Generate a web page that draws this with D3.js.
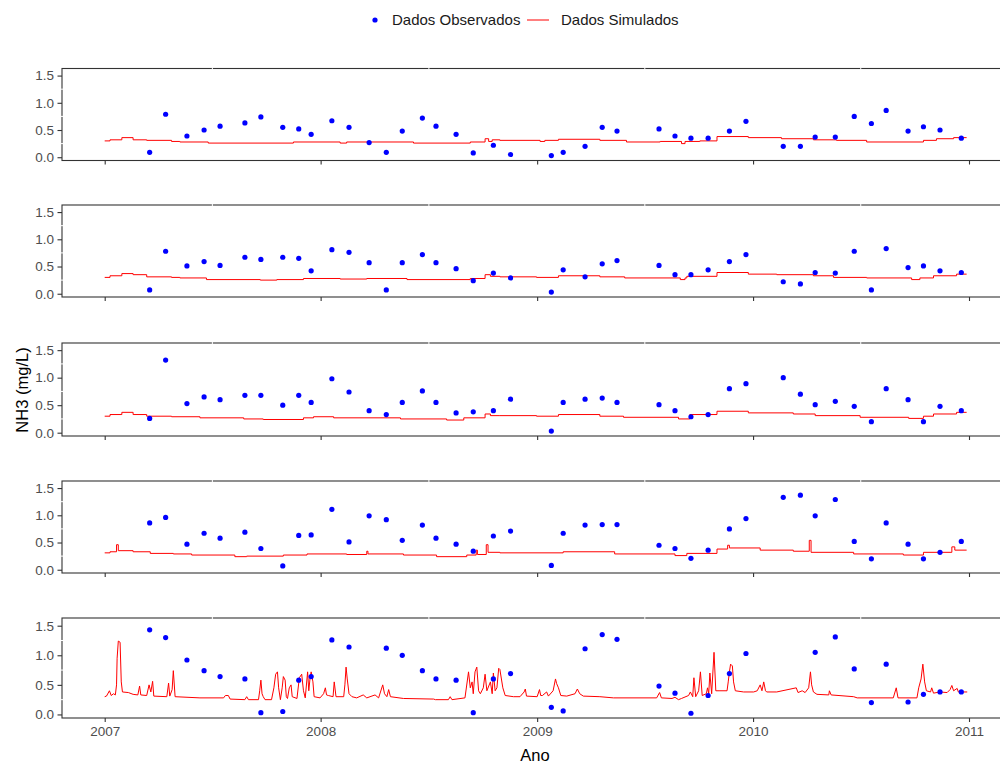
<!DOCTYPE html>
<html>
<head>
<meta charset="utf-8">
<script src="https://cdn.jsdelivr.net/npm/d3@7/dist/d3.min.js"></script>
<style>
	body { margin: 0; background: #fff; }
	svg { display: block; font-family: "Liberation Sans", Arial, sans-serif; }
</style>
</head>
<body>
<div id="chart"></div>
<script>
/* Datas de coleta (dados observados) */
const obsDatas = [
	"2007-03-18","2007-04-14","2007-05-20","2007-06-18","2007-07-15","2007-08-26","2007-09-22","2007-10-29","2007-11-25","2007-12-16",
	"2008-01-20","2008-02-18","2008-03-23","2008-04-21","2008-05-18","2008-06-21","2008-07-14","2008-08-17","2008-09-15","2008-10-19","2008-11-17",
	"2009-01-25","2009-02-14","2009-03-23","2009-04-21","2009-05-16","2009-07-26","2009-08-22","2009-09-18","2009-10-17","2009-11-22","2009-12-20",
	"2010-02-21","2010-03-22","2010-04-16","2010-05-20","2010-06-21","2010-07-20","2010-08-14","2010-09-20","2010-10-16","2010-11-13","2010-12-19"
];

/* NH3 observado por painel (null = sem coleta) */
const obsP1 = [0.09,0.79,0.39,0.50,0.57,0.63,0.74,0.55,0.52,0.42,0.67,0.55,0.27,0.09,0.48,0.72,0.57,0.42,0.08,0.22,0.05,
	0.03,0.09,0.20,0.55,0.48,0.52,0.39,0.35,0.35,0.48,0.66,0.20,0.20,0.37,0.37,0.75,0.62,0.86,0.48,0.56,0.50,0.35];
const obsP2 = [0.07,0.78,0.51,0.59,0.52,0.67,0.63,0.67,0.65,0.42,0.81,0.76,0.57,0.07,0.57,0.72,0.57,0.46,0.24,0.38,0.29,
	0.03,0.44,0.31,0.55,0.61,0.52,0.35,0.35,0.44,0.59,0.72,0.22,0.18,0.39,0.38,0.78,0.07,0.83,0.48,0.51,0.42,0.39];
const obsP3 = [0.26,1.32,0.53,0.65,0.60,0.68,0.68,0.50,0.68,0.55,0.98,0.74,0.40,0.33,0.55,0.76,0.55,0.36,0.38,0.40,0.61,
	0.03,0.55,0.61,0.63,0.55,0.51,0.40,0.29,0.33,0.80,0.89,1.00,0.70,0.51,0.57,0.48,0.20,0.80,0.60,0.20,0.48,0.40];
const obsP4 = [0.86,0.96,0.47,0.67,0.58,0.69,0.39,0.07,0.63,0.64,1.11,0.51,0.99,0.92,0.54,0.82,0.58,0.47,0.34,0.62,0.71,
	0.08,0.67,0.82,0.83,0.83,0.45,0.39,0.21,0.36,0.75,0.94,1.33,1.37,0.99,1.29,0.52,0.20,0.86,0.47,0.20,0.32,0.52];
const obsP5 = [1.43,1.30,0.92,0.74,0.64,0.60,0.03,0.05,0.58,0.64,1.26,1.14,null,1.12,1.00,0.74,0.60,0.58,0.03,0.60,0.69,
	0.12,0.06,1.11,1.35,1.27,0.48,0.36,0.02,0.32,0.69,1.03,null,null,1.05,1.31,0.77,0.20,0.85,0.21,0.34,0.38,0.38];

/* Simulado: [dias desde simInicio, NH3] */
const simInicio = "2007-01-01";
const simP1 = [[0,0.30],[9,0.32],[29,0.36],[48,0.32],[71,0.31],[113,0.29],[127,0.28],[175,0.26],[319,0.28],[398,0.26],
	[409,0.28],[522,0.26],[618,0.28],[643,0.34],[649,0.29],[655,0.32],[668,0.31],[736,0.29],[744,0.31],[767,0.33],
	[837,0.31],[882,0.28],[939,0.29],[975,0.25],[981,0.29],[1006,0.30],[1035,0.38],[1088,0.36],[1144,0.34],[1198,0.32],
	[1237,0.31],[1288,0.28],[1384,0.31],[1406,0.34],[1435,0.36],[1457,0.36]];
const simP2 = [[0,0.30],[9,0.33],[29,0.37],[48,0.35],[71,0.31],[113,0.30],[127,0.29],[172,0.26],[263,0.25],[291,0.26],
	[336,0.28],[398,0.27],[443,0.28],[511,0.26],[618,0.28],[643,0.35],[652,0.32],[668,0.31],[730,0.30],[767,0.33],
	[837,0.31],[879,0.29],[973,0.26],[981,0.29],[984,0.32],[1035,0.39],[1088,0.36],[1136,0.35],[1198,0.33],[1232,0.30],
	[1288,0.29],[1364,0.26],[1378,0.29],[1401,0.33],[1440,0.36],[1457,0.36]];
const simP3 = [[0,0.30],[9,0.33],[29,0.37],[48,0.33],[71,0.30],[113,0.29],[161,0.27],[235,0.25],[268,0.24],[336,0.27],
	[353,0.29],[387,0.27],[500,0.25],[578,0.23],[607,0.27],[643,0.34],[652,0.31],[668,0.31],[730,0.30],[767,0.33],
	[837,0.30],[877,0.28],[970,0.25],[989,0.33],[1035,0.39],[1088,0.36],[1164,0.34],[1201,0.31],[1277,0.28],[1359,0.26],
	[1384,0.30],[1401,0.34],[1440,0.37],[1457,0.37]];
const simP4 = [[0,0.31],[9,0.33],[20,0.46],[23,0.35],[48,0.33],[77,0.30],[116,0.29],[147,0.27],[220,0.24],[240,0.25],
	[302,0.27],[342,0.29],[409,0.28],[443,0.34],[445,0.29],[505,0.27],[561,0.24],[612,0.27],[628,0.36],[630,0.28],
	[645,0.46],[648,0.32],[668,0.31],[775,0.33],[862,0.29],[964,0.26],[984,0.30],[1035,0.38],[1053,0.45],[1056,0.40],
	[1108,0.36],[1164,0.34],[1191,0.54],[1194,0.32],[1266,0.29],[1350,0.27],[1384,0.32],[1432,0.42],[1437,0.36],[1457,0.36]];
const simP5 = [[0,0.30],[3,0.31],[8,0.40],[11,0.32],[15,0.35],[18,0.33],[20,0.50],[21,0.95],[23,1.24],[26,1.22],
	[28,0.55],[30,0.38],[40,0.37],[48,0.34],[56,0.33],[59,0.48],[61,0.33],[71,0.32],[75,0.50],[78,0.38],
	[81,0.56],[83,0.31],[105,0.30],[108,0.53],[110,0.31],[114,0.42],[116,0.74],[119,0.30],[161,0.28],[201,0.28],
	[204,0.32],[209,0.32],[212,0.26],[237,0.25],[240,0.30],[243,0.25],[260,0.25],[262,0.40],[264,0.58],[266,0.35],
	[268,0.30],[271,0.25],[282,0.25],[286,0.45],[289,0.68],[292,0.72],[294,0.45],[297,0.25],[300,0.45],[302,0.64],
	[305,0.58],[307,0.30],[309,0.27],[312,0.45],[315,0.50],[317,0.30],[325,0.27],[329,0.62],[333,0.68],[336,0.40],
	[339,0.28],[343,0.72],[345,0.40],[347,0.60],[349,0.72],[352,0.55],[354,0.30],[364,0.28],[370,0.35],[373,0.45],
	[375,0.33],[378,0.32],[386,0.30],[388,0.55],[391,0.30],[404,0.30],[406,0.50],[408,0.80],[410,0.60],[413,0.35],
	[418,0.30],[426,0.28],[437,0.33],[443,0.28],[457,0.33],[463,0.28],[470,0.50],[473,0.35],[477,0.30],[480,0.42],
	[483,0.30],[505,0.27],[556,0.26],[559,0.25],[581,0.25],[584,0.30],[587,0.25],[609,0.28],[615,0.72],[618,0.45],
	[621,0.55],[623,0.35],[626,0.72],[629,0.80],[632,0.40],[635,0.35],[640,0.45],[643,0.68],[646,0.40],[652,0.55],
	[655,0.35],[657,0.70],[660,0.40],[663,0.45],[666,0.78],[668,0.76],[673,0.45],[677,0.32],[691,0.30],[702,0.30],
	[709,0.38],[711,0.43],[713,0.31],[731,0.30],[735,0.42],[737,0.32],[740,0.32],[747,0.38],[750,0.31],[758,0.40],
	[762,0.60],[764,0.52],[767,0.45],[771,0.32],[781,0.31],[795,0.35],[799,0.43],[803,0.35],[809,0.31],[837,0.30],
	[860,0.28],[933,0.28],[938,0.37],[941,0.28],[959,0.27],[964,0.29],[970,0.25],[975,0.27],[987,0.32],[990,0.38],
	[994,0.30],[996,0.62],[999,0.30],[1004,0.40],[1007,0.72],[1010,0.32],[1017,0.35],[1019,0.45],[1021,0.35],[1023,0.70],
	[1026,0.35],[1030,1.05],[1033,0.40],[1040,0.40],[1052,0.40],[1054,0.55],[1056,0.72],[1058,0.85],[1061,0.82],[1063,0.55],
	[1066,0.40],[1080,0.38],[1097,0.38],[1103,0.40],[1108,0.50],[1111,0.40],[1114,0.55],[1117,0.40],[1119,0.38],[1136,0.38],
	[1169,0.45],[1172,0.37],[1179,0.40],[1184,0.37],[1190,0.45],[1193,0.72],[1195,0.50],[1198,0.38],[1204,0.34],[1224,0.33],
	[1225,0.40],[1228,0.33],[1266,0.30],[1272,0.28],[1333,0.28],[1338,0.45],[1341,0.28],[1373,0.28],[1376,0.45],[1380,0.60],
	[1383,0.85],[1386,0.55],[1389,0.40],[1396,0.38],[1398,0.45],[1401,0.36],[1412,0.38],[1424,0.37],[1429,0.42],[1432,0.49],
	[1435,0.40],[1441,0.44],[1443,0.38],[1458,0.38]];

/* Eixos */
const yTicks = [0, 0.5, 1.0, 1.5];
const yMinor = [0.25, 0.75, 1.25];
const xTicks = ["2007-01-01","2008-01-01","2009-01-01","2010-01-01","2011-01-01"];
const xMinor = ["2007-07-02","2008-07-02","2009-07-02","2010-07-02"];
const legendaLabels = ["Dados Observados", "Dados Simulados"];

/* Layout */
const W = 1000, H = 763;
const parse = d3.timeParse("%Y-%m-%d");
const t0 = parse(simInicio);
const paineis = [
	{ obs: obsP1, sim: simP1, step: true,  top: 68.5, bottom: 160.5 },
	{ obs: obsP2, sim: simP2, step: true,  top: 205,  bottom: 297 },
	{ obs: obsP3, sim: simP3, step: true,  top: 343,  bottom: 436 },
	{ obs: obsP4, sim: simP4, step: true,  top: 481,  bottom: 573 },
	{ obs: obsP5, sim: simP5, step: false, top: 618,  bottom: 718 }
];
const PL = 62, PR = 1010;

const svg = d3.select("#chart").append("svg").attr("width", W).attr("height", H);

const x = d3.scaleTime()
	.domain([parse(xTicks[0]), parse(xTicks[xTicks.length - 1])])
	.range([104.7, 969]);

svg.append("defs").selectAll("clipPath").data(paineis).join("clipPath")
	.attr("id", (d, i) => "clip" + i)
	.append("rect")
	.attr("x", PL).attr("y", d => d.top).attr("width", PR - PL).attr("height", d => d.bottom - d.top);

paineis.forEach((p, i) => {
	const y = d3.scaleLinear().domain([-0.06, 1.63]).range([p.bottom, p.top]);
	const g = svg.append("g");

	// linha simulada
	const serie = p.sim.map(([dia, v]) => ({ date: d3.timeDay.offset(t0, dia), v }));
	const line = d3.line()
		.x(d => x(d.date))
		.y(d => y(d.v))
		.curve(p.step ? d3.curveStepAfter : d3.curveLinear);
	g.append("path")
		.datum(serie)
		.attr("clip-path", `url(#clip${i})`)
		.attr("fill", "none")
		.attr("stroke", "#ff0000")
		.attr("stroke-width", 1)
		.attr("d", line);

	// pontos observados
	const pontos = obsDatas.map((d, k) => ({ date: parse(d), v: p.obs[k] })).filter(d => d.v != null);
	g.selectAll("circle").data(pontos).join("circle")
		.attr("cx", d => x(d.date))
		.attr("cy", d => y(d.v))
		.attr("r", 2.6)
		.attr("fill", "#0000ff");

	// borda do painel
	g.append("rect")
		.attr("x", PL).attr("y", p.top)
		.attr("width", PR - PL).attr("height", p.bottom - p.top)
		.attr("fill", "none").attr("stroke", "#333333").attr("stroke-width", 1.1);

	// falhas brancas das grades menores
	g.selectAll(".gy").data(yMinor).join("line")
		.attr("x1", PL - 1).attr("x2", PL + 1)
		.attr("y1", d => y(d)).attr("y2", d => y(d))
		.attr("stroke", "#fff").attr("stroke-width", 1);
	g.selectAll(".gx").data(xMinor).join("line")
		.attr("x1", d => x(parse(d))).attr("x2", d => x(parse(d)))
		.attr("y1", p.top - 1).attr("y2", p.top + 1)
		.attr("stroke", "#fff").attr("stroke-width", 1);

	// eixo y
	const ay = g.append("g")
		.attr("transform", `translate(${PL},0)`)
		.call(d3.axisLeft(y).tickValues(yTicks).tickFormat(d3.format(".1f")).tickSize(4.5).tickSizeOuter(0));
	ay.select(".domain").remove();
	ay.selectAll("line").attr("stroke", "#333333").attr("stroke-width", 1.1);
	ay.selectAll("text").attr("fill", "#4d4d4d").attr("font-size", 13.5)
		.attr("font-family", '"Liberation Sans", Arial, sans-serif').attr("x", -8);

	// eixo x
	const ultimo = i === paineis.length - 1;
	const ax = g.append("g")
		.attr("transform", `translate(0,${p.bottom})`)
		.call(d3.axisBottom(x).tickValues(xTicks.map(parse)).tickFormat(d3.timeFormat("%Y")).tickSize(4).tickSizeOuter(0));
	ax.select(".domain").remove();
	ax.selectAll("line").attr("stroke", "#333333").attr("stroke-width", 1.1);
	ax.selectAll("text").attr("fill", "#4d4d4d").attr("font-size", 13.5)
		.attr("font-family", '"Liberation Sans", Arial, sans-serif').attr("y", 8)
		.style("display", ultimo ? null : "none");
});

/* Títulos dos eixos */
svg.append("text")
	.attr("x", 535).attr("y", 761)
	.attr("text-anchor", "middle").attr("font-size", 16.5).attr("fill", "#000")
	.text("Ano");
svg.append("text")
	.attr("transform", "translate(28,390) rotate(-90)")
	.attr("text-anchor", "middle").attr("font-size", 16.5).attr("fill", "#000")
	.text("NH3 (mg/L)");

/* Legenda */
const leg = svg.append("g").attr("font-size", 15).attr("fill", "#1a1a1a");
leg.append("circle").attr("cx", 375).attr("cy", 20).attr("r", 2.6).attr("fill", "#0000ff");
leg.append("text").attr("x", 392).attr("y", 25).text(legendaLabels[0]);
leg.append("line").attr("x1", 527).attr("x2", 549).attr("y1", 20).attr("y2", 20)
	.attr("stroke", "#ff0000").attr("stroke-width", 1);
leg.append("text").attr("x", 561).attr("y", 25).text(legendaLabels[1]);
</script>
</body>
</html>
